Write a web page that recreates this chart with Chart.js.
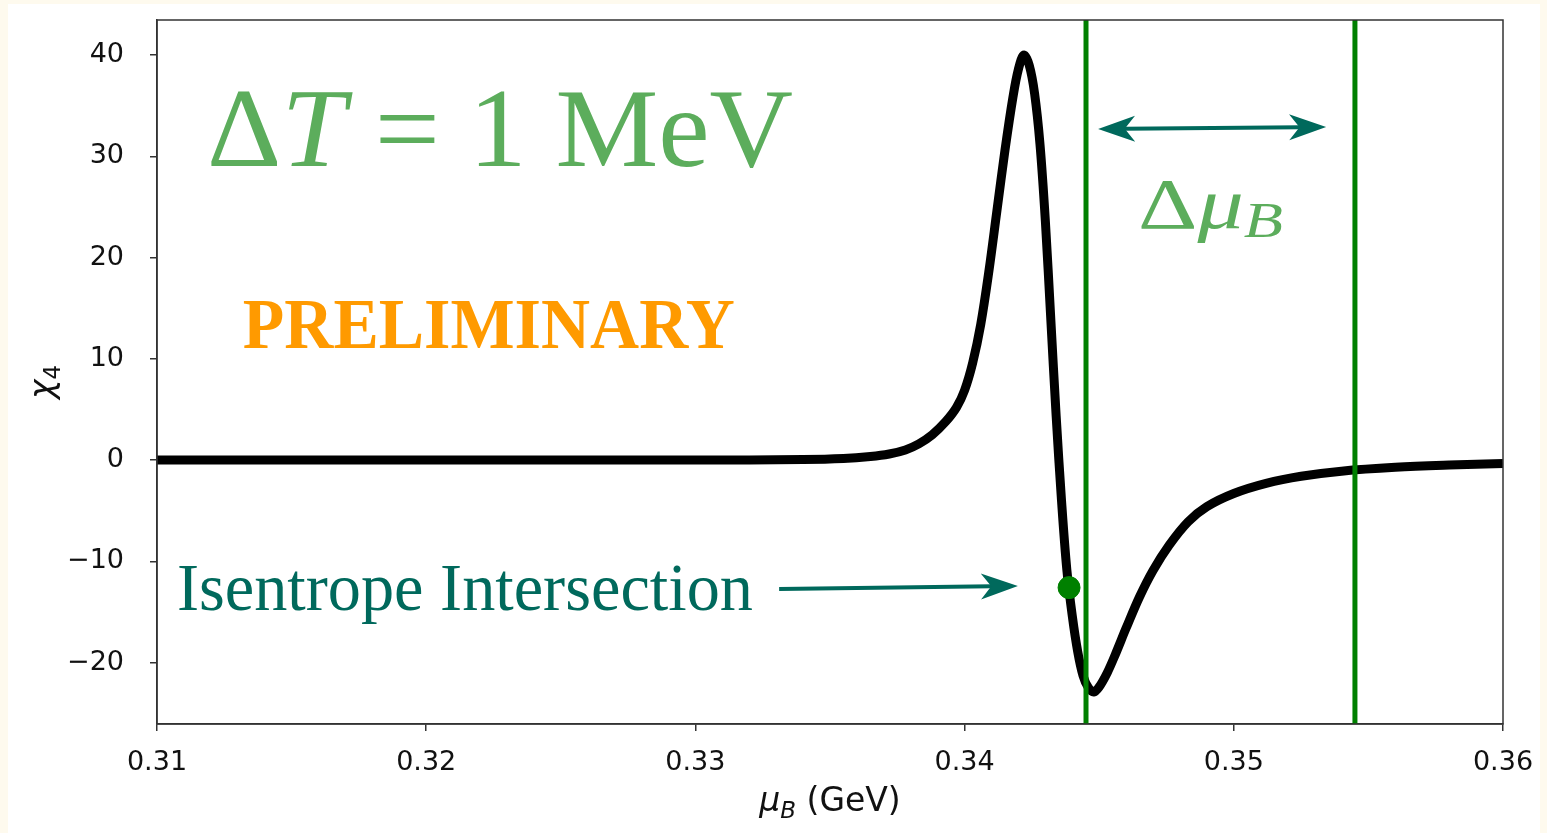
<!DOCTYPE html>
<html>
<head>
<meta charset="utf-8">
<script src="https://cdn.jsdelivr.net/npm/chart.js@4.4.1/dist/chart.umd.min.js"></script>
<style>
  body { margin: 0; background: #fefaee; }
  canvas { display: block; }
</style>
</head>
<body>
<canvas id="chi4Chart" width="1547" height="833"></canvas>
<script>
// chi_4 along mu_B
const muB = [0.310, 0.320, 0.330, 0.334, 0.3355, 0.3365, 0.3372, 0.3378, 0.3383, 0.3388,
  0.3393, 0.3397, 0.3400, 0.3403, 0.3406, 0.3409, 0.3412, 0.3415, 0.3418, 0.3420,
  0.3422, 0.3424, 0.3426, 0.3428, 0.3430, 0.3432, 0.3434, 0.3436, 0.3438, 0.3440,
  0.3442, 0.3444, 0.3446, 0.3448, 0.3450, 0.3453, 0.3456, 0.3460, 0.3465, 0.3470,
  0.3476, 0.3483, 0.3490, 0.3500, 0.3512, 0.3525, 0.3540, 0.3560, 0.3580, 0.3600];
const chi4 = [0, 0, 0, 0.05, 0.15, 0.35, 0.6, 1.0, 1.6, 2.5,
  3.8, 5.2, 6.9, 9.6, 13.4, 18.6, 24.6, 30.6, 35.9, 38.6,
  40.0, 39.0, 36.2, 31.2, 23.6, 14.0, 4.4, -4.0, -10.9, -15.4,
  -18.9, -21.3, -22.5, -22.9, -22.4, -21.0, -19.2, -16.6, -13.5, -10.9,
  -8.4, -6.1, -4.6, -3.3, -2.3, -1.6, -1.1, -0.72, -0.5, -0.35];

const vLines = [0.34451, 0.35450];
const isentropePoint = [0.34388, -12.6];

const xTicks = [0.31, 0.32, 0.33, 0.34, 0.35, 0.36];
const xTickLabels = ['0.31', '0.32', '0.33', '0.34', '0.35', '0.36'];
const yTicks = [-20, -10, 0, 10, 20, 30, 40];
const yTickLabels = ['\u221220', '\u221210', '0', '10', '20', '30', '40'];

const xMin = 0.31, xMax = 0.36, yMin = -26.07, yMax = 43.46;

const curveData = muB.map((x, i) => ({ x: x, y: chi4[i] }));
const vLineSets = vLines.map(x => ({
  data: [{ x: x, y: yMin }, { x: x, y: yMax }],
  borderColor: '#008000', borderWidth: 5, pointRadius: 0, showLine: true, order: 1
}));

function drawArrow(ctx, x1, y1, x2, y2, both, color) {
  const dx = x2 - x1, dy = y2 - y1;
  const len = Math.hypot(dx, dy);
  const ux = dx / len, uy = dy / len;
  const px = -uy, py = ux;
  const L = 37, W = 13;
  ctx.strokeStyle = color;
  ctx.fillStyle = color;
  ctx.lineWidth = 4;
  ctx.beginPath();
  ctx.moveTo(x1 + (both ? ux * L * 0.7 : 0), y1 + (both ? uy * L * 0.7 : 0));
  ctx.lineTo(x2 - ux * L * 0.7, y2 - uy * L * 0.7);
  ctx.stroke();
  const head = (tx, ty, ax, ay) => {
    ctx.beginPath();
    ctx.moveTo(tx, ty);
    ctx.lineTo(tx - ax * L + px * W, ty - ay * L + py * W);
    ctx.lineTo(tx - ax * L * 0.72, ty - ay * L * 0.72);
    ctx.lineTo(tx - ax * L - px * W, ty - ay * L - py * W);
    ctx.closePath();
    ctx.fill();
  };
  head(x2, y2, ux, uy);
  if (both) head(x1, y1, -ux, -uy);
}

// draws runs of text, squeezed so the whole run has the wanted width
function drawRuns(ctx, runs, x, y, width, color) {
  let total = 0;
  runs.forEach(r => { ctx.font = r.font; r.w = ctx.measureText(r.t).width; total += r.w; });
  const sx = width / total;
  ctx.save();
  ctx.translate(x, y);
  ctx.scale(sx, 1);
  ctx.fillStyle = color;
  ctx.textBaseline = 'alphabetic';
  ctx.textAlign = 'left';
  let cx = 0;
  runs.forEach(r => {
    ctx.font = r.font;
    ctx.fillText(r.t, cx, r.dy || 0);
    cx += r.w;
  });
  ctx.restore();
}

const framePlugin = {
  id: 'frame',
  beforeDraw(chart) {
    const ctx = chart.ctx;
    ctx.save();
    ctx.fillStyle = '#fefaee';
    ctx.fillRect(0, 0, chart.width, chart.height);
    ctx.fillStyle = '#ffffff';
    ctx.fillRect(8, 4, chart.width - 15, chart.height - 4);
    ctx.restore();
  },
  afterDraw(chart) {
    const ctx = chart.ctx;
    const a = chart.chartArea;
    const xs = chart.scales.x, ys = chart.scales.y;
    ctx.save();
    ctx.strokeStyle = '#333';
    ctx.lineWidth = 1.5;
    ctx.strokeRect(a.left, a.top, a.right - a.left, a.bottom - a.top);

    // annotations
    const serif = '"Liberation Serif", "DejaVu Serif", serif';
    drawRuns(ctx, [
      { t: '\u0394', font: '112px ' + serif },
      { t: 'T', font: 'italic 112px ' + serif },
      { t: ' = 1 MeV', font: '112px ' + serif }
    ], xs.getPixelForValue(0.31186), ys.getPixelForValue(29.04), 586, '#5cad5c');

    drawRuns(ctx, [
      { t: '\u0394', font: '72px ' + serif },
      { t: '\u03bc', font: 'italic 72px ' + serif },
      { t: 'B', font: 'italic 50px ' + serif, dy: 9 }
    ], xs.getPixelForValue(0.34644), ys.getPixelForValue(22.9), 145, '#5cad5c');

    drawRuns(ctx, [
      { t: 'PRELIMINARY', font: 'bold 72px ' + serif }
    ], xs.getPixelForValue(0.31319), ys.getPixelForValue(11.06), 492, '#ff9a00');

    drawRuns(ctx, [
      { t: 'Isentrope Intersection', font: '68px ' + serif }
    ], xs.getPixelForValue(0.31074), ys.getPixelForValue(-14.8), 576, '#00695c');

    drawArrow(ctx, xs.getPixelForValue(0.34496), ys.getPixelForValue(32.69),
      xs.getPixelForValue(0.35343), ys.getPixelForValue(32.89), true, '#00695c');
    drawArrow(ctx, xs.getPixelForValue(0.33311), ys.getPixelForValue(-12.74),
      xs.getPixelForValue(0.34198), ys.getPixelForValue(-12.44), false, '#00695c');

    // axis titles
    const sans = '"DejaVu Sans", sans-serif';
    ctx.fillStyle = '#111';
    ctx.textBaseline = 'alphabetic';
    ctx.textAlign = 'left';
    ctx.font = 'italic 33px ' + sans;
    const muW = ctx.measureText('\u03bc').width;
    ctx.font = 'italic 23px ' + sans;
    const bW = ctx.measureText('B').width;
    ctx.font = '33px ' + sans;
    const restW = ctx.measureText(' (GeV)').width;
    let tx = (a.left + a.right) / 2 - (muW + bW + restW) / 2;
    const ty = 811;
    ctx.font = 'italic 33px ' + sans;
    ctx.fillText('\u03bc', tx, ty);
    ctx.font = 'italic 23px ' + sans;
    ctx.fillText('B', tx + muW, ty + 7);
    ctx.font = '33px ' + sans;
    ctx.fillText(' (GeV)', tx + muW + bW, ty);

    ctx.translate(53, (a.top + a.bottom) / 2 + 10);
    ctx.rotate(-Math.PI / 2);
    ctx.font = 'italic 33px ' + sans;
    const chiW = ctx.measureText('\u03c7').width;
    ctx.font = '23px ' + sans;
    const fW = ctx.measureText('4').width;
    const cx0 = -(chiW + fW) / 2;
    ctx.font = 'italic 33px ' + sans;
    ctx.fillText('\u03c7', cx0, 0);
    ctx.font = '23px ' + sans;
    ctx.fillText('4', cx0 + chiW, 7);
    ctx.restore();
  }
};

const tickFont = { family: 'DejaVu Sans', size: 27 };

new Chart(document.getElementById('chi4Chart'), {
  type: 'scatter',
  data: {
    datasets: [
      {
        data: [{ x: isentropePoint[0], y: isentropePoint[1] }],
        backgroundColor: '#008000', borderColor: '#008000',
        pointRadius: 11, showLine: false, order: 0
      },
      ...vLineSets,
      {
        data: curveData,
        borderColor: '#000000', borderWidth: 9, pointRadius: 0,
        borderJoinStyle: 'round', borderCapStyle: 'butt',
        showLine: true, tension: 0.35, order: 2
      }
    ]
  },
  options: {
    responsive: false,
    animation: false,
    devicePixelRatio: 1,
    layout: { padding: { top: 20, right: 44, left: 0, bottom: 0 } },
    plugins: { legend: { display: false }, tooltip: { enabled: false } },
    scales: {
      x: {
        type: 'linear', min: xMin, max: xMax,
        afterBuildTicks: s => { s.ticks = xTicks.map(v => ({ value: v })); },
        afterFit: s => { s.height = 109; s.paddingLeft = 0; s.paddingRight = 0; },
        ticks: {
          callback: (v, i) => xTickLabels[i], font: tickFont, color: '#111',
          padding: 16, maxRotation: 0, autoSkip: false
        },
        grid: { drawOnChartArea: false, tickLength: 7, color: '#333', lineWidth: 1.5 },
        border: { color: '#333', width: 1.5 }
      },
      y: {
        type: 'linear', min: yMin, max: yMax,
        afterBuildTicks: s => { s.ticks = yTicks.map(v => ({ value: v })); },
        afterFit: s => { s.width = 157; s.paddingTop = 0; s.paddingBottom = 0; },
        ticks: {
          callback: (v, i) => yTickLabels[i], font: tickFont, color: '#111',
          padding: 26, autoSkip: false
        },
        grid: { drawOnChartArea: false, tickLength: 7, color: '#333', lineWidth: 1.5 },
        border: { color: '#333', width: 1.5 }
      }
    }
  },
  plugins: [framePlugin]
});
</script>
</body>
</html>
